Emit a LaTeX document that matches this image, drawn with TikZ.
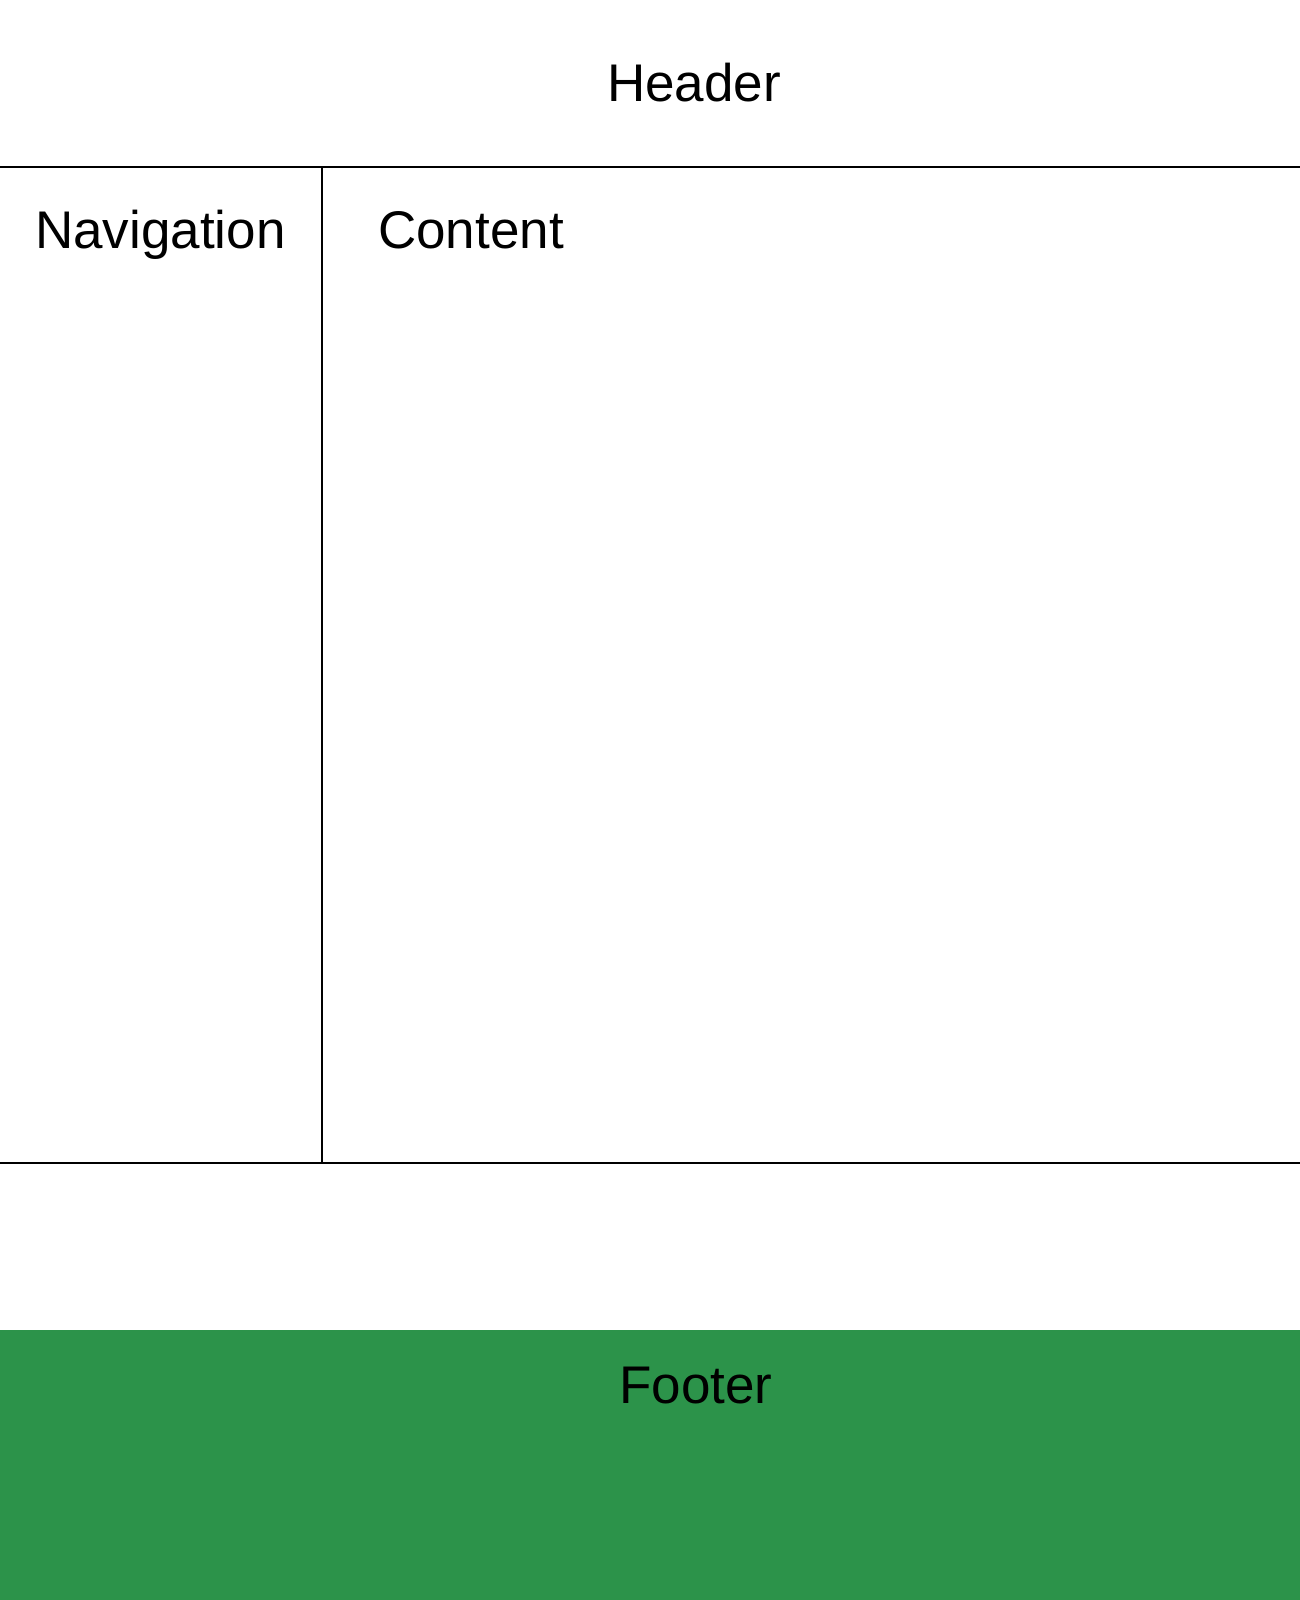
\documentclass[tikz,border=0pt]{standalone}
\usepackage{fontspec}
\setmainfont{Liberation Sans}
\definecolor{footergreen}{HTML}{2C934A}
\begin{document}
\begin{tikzpicture}[x=1pt,y=-1pt,
  lab/.style={inner sep=0pt, font=\fontsize{53}{60}\selectfont},
  rule/.style={line width=2.6pt, black}]
\useasboundingbox (0,0) rectangle (1300,1600);
\fill[white] (0,0) rectangle (1300,1600);
\fill[footergreen] (0,1330) rectangle (1300,1600);
\coordinate (hl) at (0,167);
\coordinate (hr) at (1300,167);
\coordinate (bl) at (0,1163);
\coordinate (br) at (1300,1163);
\coordinate (vt) at (322,167);
\coordinate (vb) at (322,1163);
\draw[rule] (hl) -- (hr);
\draw[rule] (bl) -- (br);
\draw[rule] (vt) -- (vb);
\node[lab, anchor=base] (header) at (694,102) {Header};
\node[lab, anchor=base west] (nav) at (35,248) {Navigation};
\node[lab, anchor=base west] (content) at (378,248) {Content};
\node[lab, anchor=base] (footer) at (696,1403) {Footer};
\end{tikzpicture}
\end{document}
